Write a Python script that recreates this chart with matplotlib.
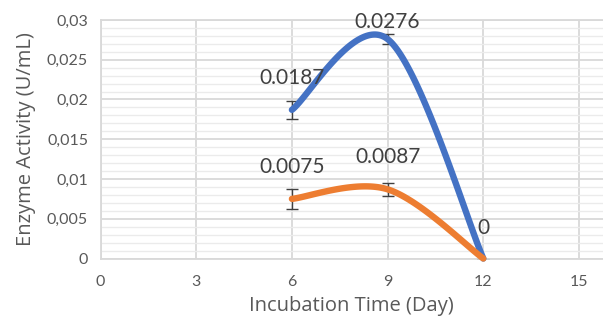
import numpy as np
import matplotlib
matplotlib.use("Agg")
import matplotlib.pyplot as plt
from matplotlib.ticker import MultipleLocator

# ---- data ----
days = [6, 9, 12]
series_blue = [0.0187, 0.0276, 0.0]
series_orange = [0.0075, 0.0087, 0.0]
err_blue = [0.0011, 0.0006, 0.0]
err_orange = [0.0013, 0.0008, 0.0]
x_ticks = [0, 3, 6, 9, 12, 15]
y_ticks = [0, 0.005, 0.01, 0.015, 0.02, 0.025, 0.03]
y_tick_labels = ["0", "0,005", "0,01", "0,015", "0,02", "0,025", "0,03"]
blue_labels = ["0.0187", "0.0276", "0"]
orange_labels = ["0.0075", "0.0087", ""]

BLUE = "#4472C4"
ORANGE = "#ED7D31"
GRID = "#d9d9d9"
MINOR = "#ebebeb"
TXT = "#595959"

fig = plt.figure(figsize=(6.03, 3.20), dpi=100)
W, H = 603, 320
x0, x15 = 100.5, 579.0
ytop, ybot = 20.0, 258.5
ax = fig.add_axes([x0 / W, (H - ybot) / H, (W - x0) / W, (ybot - ytop) / H])
ax.set_xlim(0, 15 * (W - x0) / (x15 - x0))
ax.set_ylim(0, 0.03)

ax.set_xticks(x_ticks)
ax.set_yticks(y_ticks)
ax.set_yticklabels(y_tick_labels)
ax.yaxis.set_minor_locator(MultipleLocator(0.001))
ax.grid(True, which="major", color=GRID, lw=1.3, zorder=0)
ax.grid(True, which="minor", axis="y", color=MINOR, lw=1.0, zorder=0)
ax.set_axisbelow(True)
ax.tick_params(which="both", length=0, labelsize=11.5, labelcolor=TXT)
ax.tick_params(axis="x", pad=12)
ax.tick_params(axis="y", pad=9)
for lab in ax.get_xticklabels() + ax.get_yticklabels():
    lab.set_family("Lato")
ax.spines["right"].set_visible(False)
for s in ["left", "bottom", "top"]:
    ax.spines[s].set_color(GRID)
    ax.spines[s].set_linewidth(1.3)

ax.set_xlabel("Incubation Time (Day)", fontsize=14.5, color=TXT, family="Open Sans", labelpad=5)
ax.set_ylabel("Enzyme Activity (U/mL)", fontsize=14.5, color=TXT, family="Open Sans", labelpad=8)


def excel_smooth(xs, ys, n=60):
    # Bezier smoothing in display space (Excel style, tension 1/6)
    pts = ax.transData.transform(np.column_stack([xs, ys]))
    out = []
    m = len(pts)
    for i in range(m - 1):
        p0 = pts[i - 1] if i > 0 else pts[i]
        p1 = pts[i]
        p2 = pts[i + 1]
        p3 = pts[i + 2] if i + 2 < m else pts[i + 1]
        c1 = p1 + (p2 - p0) / 6.0
        c2 = p2 - (p3 - p1) / 6.0
        t = np.linspace(0, 1, n)[:, None]
        seg = ((1 - t) ** 3) * p1 + 3 * ((1 - t) ** 2) * t * c1 + 3 * (1 - t) * t ** 2 * c2 + t ** 3 * p2
        out.append(seg if i == 0 else seg[1:])
    out = np.vstack(out)
    d = ax.transData.inverted().transform(out)
    return d[:, 0], d[:, 1]


for ys, errs, col in [(series_blue, err_blue, BLUE), (series_orange, err_orange, ORANGE)]:
    sx, sy = excel_smooth(days, ys)
    ax.errorbar(days, ys, yerr=errs, fmt="none", ecolor="#404040", elinewidth=1.0,
                capsize=4.3, capthick=1.0, zorder=2)
    ax.plot(sx, sy, color=col, lw=4.6, solid_capstyle="round", zorder=3, clip_on=False)

blue_offsets = [23, 12, 22]
orange_offsets = [23, 23, 22]
for lbls, ys, offs in [(blue_labels, series_blue, blue_offsets), (orange_labels, series_orange, orange_offsets)]:
    for xv, yv, t, o in zip(days, ys, lbls, offs):
        if t:
            ax.annotate(t, (xv, yv), xytext=(0, o), textcoords="offset points",
                        ha="center", va="center", fontsize=15, color="#404040",
                        family="Lato", zorder=5, annotation_clip=False)

fig.savefig("out.png", dpi=100)
